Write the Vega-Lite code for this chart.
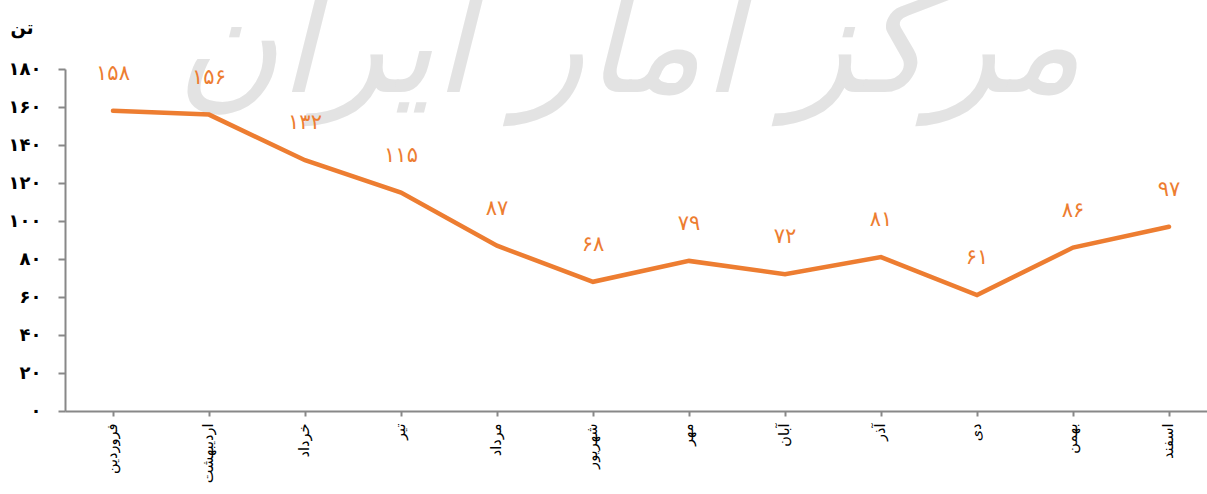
{
  "$schema": "https://vega.github.io/schema/vega-lite/v6.json",
  "autosize": "none",
  "padding": {"left": 65, "top": 69, "right": 0, "bottom": 83},
  "width": 1152,
  "height": 342,
  "background": "white",
  "config": {"view": {"stroke": null}, "font": "DejaVu Sans"},
  "data": {"values": [
    {"month": "فروردین", "value": 158},
    {"month": "اردیبهشت", "value": 156},
    {"month": "خرداد", "value": 132},
    {"month": "تیر", "value": 115},
    {"month": "مرداد", "value": 87},
    {"month": "شهریور", "value": 68},
    {"month": "مهر", "value": 79},
    {"month": "آبان", "value": 72},
    {"month": "آذر", "value": 81},
    {"month": "دی", "value": 61},
    {"month": "بهمن", "value": 86},
    {"month": "اسفند", "value": 97}
  ]},
  "encoding": {
    "x": {
      "field": "month", "type": "nominal",
      "sort": ["فروردین", "اردیبهشت", "خرداد", "تیر", "مرداد", "شهریور", "مهر", "آبان", "آذر", "دی", "بهمن", "اسفند"],
      "scale": {"type": "band", "paddingInner": 0, "paddingOuter": 0},
      "axis": {
        "title": null, "labelAngle": -90, "labelFontSize": 14.5, "labelColor": "#000",
        "labelPadding": 7, "tickSize": 5, "tickColor": "#888", "domainColor": "#888",
        "domainWidth": 2, "tickWidth": 2, "tickBand": "center", "grid": false
      }
    },
    "y": {
      "field": "value", "type": "quantitative",
      "scale": {"domain": [0, 180], "nice": false},
      "axis": {
        "values": [0, 20, 40, 60, 80, 100, 120, 140, 160, 180],
        "grid": false, "title": "تن", "titleAngle": 0, "titleX": -55, "titleY": -41,
        "titleAlign": "left", "titleBaseline": "middle", "titleFontSize": 18, "titleFontWeight": "bold", "titleColor": "#000",
        "labelFontSize": 18, "labelFontWeight": "bold", "labelColor": "#000", "labelPadding": 17,
        "tickSize": 7, "tickColor": "#888", "domainColor": "#888", "domainWidth": 2, "tickWidth": 2,
        "labelExpr": "replace(replace(replace(replace(replace(replace(replace(replace(replace(replace(datum.label,/0/g,'۰'),/1/g,'۱'),/2/g,'۲'),/3/g,'۳'),/4/g,'۴'),/5/g,'۵'),/6/g,'۶'),/7/g,'۷'),/8/g,'۸'),/9/g,'۹')"
      }
    }
  },
  "layer": [
    {
      "data": {"values": [{"month": "مهر", "value": 190, "wm": "مرکز آمار ایران"}]},
      "mark": {"type": "text", "color": "#e3e3e3", "fontSize": 140, "fontStyle": "italic", "baseline": "middle", "align": "center", "dx": -60},
      "encoding": {"text": {"field": "wm"}}
    },
    {
      "mark": {"type": "line", "color": "#ED7D31", "strokeWidth": 4.5, "strokeCap": "round", "strokeJoin": "miter"}
    },
    {
      "transform": [
        {"calculate": "replace(replace(replace(replace(replace(replace(replace(replace(replace(replace(toString(datum.value),/0/g,'۰'),/1/g,'۱'),/2/g,'۲'),/3/g,'۳'),/4/g,'۴'),/5/g,'۵'),/6/g,'۶'),/7/g,'۷'),/8/g,'۸'),/9/g,'۹')", "as": "lbl"}
      ],
      "mark": {"type": "text", "color": "#ED7D31", "fontSize": 21, "dy": -37, "baseline": "middle"},
      "encoding": {"text": {"field": "lbl"}}
    }
  ]
}
